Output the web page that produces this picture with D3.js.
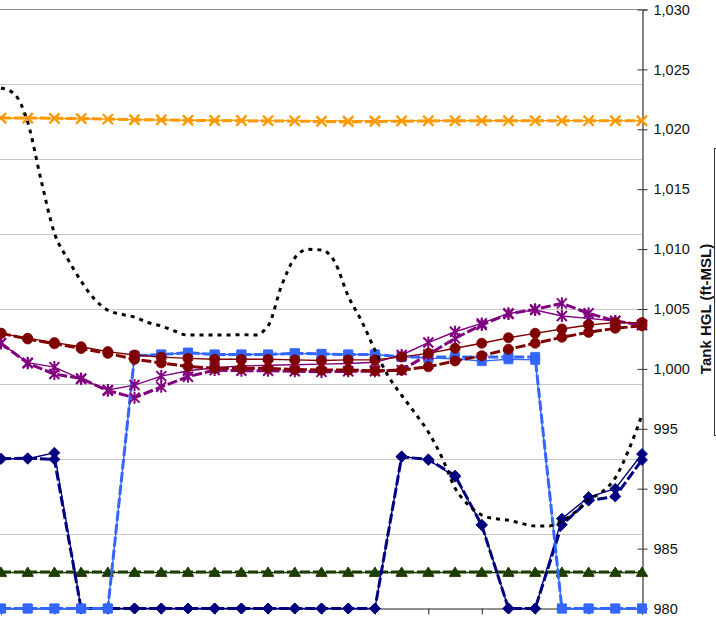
<!DOCTYPE html>
<html>
<head>
<meta charset="utf-8">
<script src="https://cdn.jsdelivr.net/npm/d3@7"></script>
<style>
  body { margin: 0; background: #fff; }
  svg { display: block; font-family: "Liberation Sans", Arial, sans-serif; }
</style>
</head>
<body>
<svg id="chart"></svg>
<script>
// Hours on the category axis
const hours = [0, 1, 2, 3, 4, 5, 6, 7, 8, 9, 10, 11, 12, 13, 14, 15, 16, 17, 18, 19, 20, 21, 22, 23, 24];
const halfHours = [0, 0.5, 1, 1.5, 2, 2.5, 3, 3.5, 4, 4.5, 5, 5.5, 6, 6.5, 7, 7.5, 8, 8.5, 9, 9.5, 10, 10.5,
  11, 11.5, 12, 12.5, 13, 13.5, 14, 14.5, 15, 15.5, 16, 16.5, 17, 17.5, 18, 18.5, 19, 19.5, 20, 20.5,
  21, 21.5, 22, 22.5, 23, 23.5, 24];

// Tank HGL (ft-MSL)
const orangeSolid = [1020.92, 1020.92, 1020.9, 1020.88, 1020.85, 1020.8, 1020.78, 1020.76, 1020.75, 1020.75, 1020.74, 1020.72, 1020.7,
  1020.7, 1020.72, 1020.72, 1020.72, 1020.72, 1020.72, 1020.72, 1020.72, 1020.72, 1020.72, 1020.72, 1020.72];
const orangeDashed = [1020.95, 1020.95, 1020.92, 1020.9, 1020.85, 1020.8, 1020.8, 1020.75, 1020.72, 1020.7, 1020.7, 1020.68, 1020.65,
  1020.62, 1020.65, 1020.68, 1020.7, 1020.72, 1020.72, 1020.72, 1020.72, 1020.72, 1020.72, 1020.72, 1020.72];
const redSolid = [1002.97, 1002.55, 1002.19, 1001.85, 1001.44, 1001.16, 1000.98, 1000.88, 1000.8, 1000.8, 1000.8, 1000.75, 1000.7,
  1000.75, 1000.75, 1001.0, 1001.3, 1001.72, 1002.14, 1002.6, 1002.97, 1003.33, 1003.67, 1003.86, 1003.86];
const redDashed = [1002.97, 1002.5, 1002.1, 1001.7, 1001.3, 1000.8, 1000.5, 1000.2, 1000.05, 1000.05, 1000.05, 999.95, 999.9,
  999.9, 999.85, 999.9, 1000.18, 1000.66, 1001.1, 1001.64, 1002.14, 1002.64, 1003.05, 1003.39, 1003.6];
const purpleSolid = [1002.14, 1000.52, 1000.15, 999.15, 998.24, 998.65, 999.4, 999.85, 1000.1, 1000.25, 1000.3, 1000.35, 1000.4,
  1000.45, 1000.55, 1001.16, 1002.2, 1003.1, 1003.8, 1004.64, 1004.92, 1004.42, 1004.22, 1004.0, 1003.67];
const purpleDashed = [1002.14, 1000.47, 999.57, 999.2, 998.18, 997.6, 998.5, 999.35, 999.9, 999.85, 999.85, 999.8, 999.75,
  999.8, 999.8, 999.9, 1001.2, 1002.55, 1003.67, 1004.58, 1004.97, 1005.47, 1004.64, 1004.0, 1003.67];
const blueSolid = [980, 980, 980, 980, 980, 1001.1, 1001.2, 1001.35, 1001.2, 1001.2, 1001.2, 1001.3, 1001.25,
  1001.2, 1001.2, 1001.0, 1000.9, 1000.85, 1000.65, 1000.8, 1000.75, 980, 980, 980, 980];
const blueDashed = [980, 980, 980, 980, 980, 1001.1, 1001.2, 1001.35, 1001.2, 1001.2, 1001.2, 1001.3, 1001.25,
  1001.2, 1001.2, 1001.0, 1001.0, 1001.0, 1001.0, 1001.0, 1001.0, 980, 980, 980, 980];
const navySolid = [992.5, 992.5, 993.0, 980, 980, 980, 980, 980, 980, 980, 980, 980, 980,
  980, 980, 992.7, 992.4, 991.0, 987.0, 980, 980, 987.5, 989.3, 990.0, 992.9];
const navyDashed = [992.5, 992.55, 992.45, 980, 980, 980, 980, 980, 980, 980, 980, 980, 980,
  980, 980, 992.65, 992.45, 991.1, 986.95, 980, 980, 987.0, 989.0, 989.35, 992.4];
const greenSolid = [983, 983, 983, 983, 983, 983, 983, 983, 983, 983, 983, 983, 983,
  983, 983, 983, 983, 983, 983, 983, 983, 983, 983, 983, 983];
const greenDashed = [983.05, 983.05, 983.05, 983.05, 983.05, 983.05, 983.05, 983.05, 983.05, 983.05, 983.05, 983.05, 983.05,
  983.05, 983.05, 983.05, 983.05, 983.05, 983.05, 983.05, 983.05, 983.05, 983.05, 983.05, 983.05];
const blackDotted = [1023.45, 1022.95, 1020.6, 1015.77, 1011.33, 1009.17, 1007.33, 1005.82, 1004.9, 1004.57, 1004.32, 1003.87,
  1003.58, 1003.16, 1002.82, 1002.82, 1002.82, 1002.82, 1002.86, 1002.82, 1003.58, 1006.92, 1009.26, 1009.98,
  1009.93, 1008.92, 1006.08, 1004.0, 1001.57, 999.4, 997.8, 996.32, 994.73, 992.65, 990.06, 988.64, 987.8,
  987.5, 987.37, 987.1, 986.89, 986.89, 987.3, 988.05, 989.06, 989.73, 990.9, 993.23, 996.15];

// Right axis ticks, left (primary, cropped) gridline ticks, bottom ticks
const hglTicks = [980, 985, 990, 995, 1000, 1005, 1010, 1015, 1020, 1025, 1030];
const gridTicks = [10, 20, 30, 40, 50, 60, 70];
const hourTicks = [0, 2, 4, 6, 8, 10, 12, 14, 16, 18, 20, 22, 24];

const W = 716, H = 618;
const svg = d3.select("#chart").attr("width", W).attr("height", H);

const x = d3.scaleLinear().domain([0, 24]).range([1, 642]);
const y = d3.scaleLinear().domain([980, 1030]).range([608.5, 9.5]);
const yLeft = d3.scaleLinear().domain([0, 80]).range([608.5, 9.5]);

// gridlines from the (cropped) primary axis
svg.append("g").selectAll("line")
    .data(gridTicks)
    .enter().append("line")
    .attr("x1", -10).attr("x2", 642)
    .attr("y1", d => Math.round(yLeft(d)) + 0.5).attr("y2", d => Math.round(yLeft(d)) + 0.5)
    .attr("stroke", "#c8c8c8").attr("stroke-width", 1);

// plot area top border
svg.append("line")
    .attr("x1", -10).attr("x2", 642).attr("y1", 9.5).attr("y2", 9.5)
    .attr("stroke", "#8c8c8c").attr("stroke-width", 1.2);

// bottom category axis
const xAxis = svg.append("g").attr("transform", "translate(0,608.5)")
    .call(d3.axisBottom(x).tickValues(hourTicks).tickSize(6).tickFormat(""));
xAxis.select(".domain").attr("stroke", "#222");
xAxis.selectAll(".tick line").attr("stroke", "#222");

// right axis
const yAxis = svg.append("g").attr("transform", "translate(642.5,0)")
    .call(d3.axisRight(y).tickValues(hglTicks).tickSize(5).tickPadding(6).tickFormat(d3.format(",")));
yAxis.select(".domain").attr("stroke", "#333").attr("stroke-width", 1.2);
yAxis.selectAll(".tick line").attr("x1", -5).attr("x2", 5).attr("stroke", "#333");
yAxis.selectAll(".tick text")
    .attr("fill", "#111").style("font-size", "14.5px")
    .style("font-family", "'Liberation Sans', Arial, sans-serif");

svg.append("text")
    .attr("transform", "translate(711,309) rotate(-90)")
    .attr("text-anchor", "middle")
    .style("font-size", "15px").style("font-weight", "bold").attr("fill", "#111")
    .text("Tank HGL (ft-MSL)");

// legend box (mostly cropped)
svg.append("rect")
    .attr("x", 714.5).attr("y", 148.5).attr("width", 40).attr("height", 287)
    .attr("fill", "#fff").attr("stroke", "#333").attr("stroke-width", 1);

// markers
function markerPath(type, s) {
  if (type === "circle") return d3.symbol(d3.symbolCircle, s * s * 3.2)();
  if (type === "square") return `M${-s},${-s}H${s}V${s}H${-s}Z`;
  if (type === "diamond") return `M0,${-s - 0.5}L${s + 0.5},0L0,${s + 0.5}L${-s - 0.5},0Z`;
  if (type === "triangle") return `M0,${-s}L${s + 0.5},${s * 0.8}L${-s - 0.5},${s * 0.8}Z`;
  if (type === "x") return `M${-s},${-s}L${s},${s}M${-s},${s}L${s},${-s}`;
  if (type === "star") return `M${-s},${-s}L${s},${s}M${-s},${s}L${s},${-s}M0,${-s - 1}L0,${s + 1}`;
}

const line = d3.line().x(d => x(d.h)).y(d => y(d.v));

function drawSeries(values, color, marker, dashed) {
  const pts = values.map((v, i) => ({ h: hours[i], v: v }));
  svg.append("path")
      .datum(pts)
      .attr("d", line)
      .attr("fill", "none")
      .attr("stroke", color)
      .attr("stroke-width", dashed ? 3 : 1.4)
      .attr("stroke-dasharray", dashed ? "10,3" : null);
  const open = marker === "x" || marker === "star";
  svg.append("g").selectAll("path")
      .data(pts)
      .enter().append("path")
      .attr("transform", d => `translate(${x(d.h)},${y(d.v)})`)
      .attr("d", markerPath(marker, marker === "square" ? 4.5 : 5))
      .attr("fill", open ? "none" : color)
      .attr("stroke", color)
      .attr("stroke-width", open ? 2 : 0.8);
}

drawSeries(greenSolid, "#1e3d00", "triangle", false);
drawSeries(greenDashed, "#1e3d00", "triangle", true);
drawSeries(navySolid, "#000080", "diamond", false);
drawSeries(navyDashed, "#000080", "diamond", true);
drawSeries(blueSolid, "#3366ff", "square", false);
drawSeries(blueDashed, "#3366ff", "square", true);
drawSeries(purpleSolid, "#800080", "star", false);
drawSeries(purpleDashed, "#800080", "star", true);
drawSeries(redSolid, "#800000", "circle", false);
drawSeries(redDashed, "#800000", "circle", true);
drawSeries(orangeSolid, "#ff9900", "x", false);
drawSeries(orangeDashed, "#ff9900", "x", true);

// black dotted line on top
svg.append("path")
    .datum(blackDotted.map((v, i) => ({ h: halfHours[i], v: v })))
    .attr("d", d3.line().x(d => x(d.h)).y(d => y(d.v)).curve(d3.curveMonotoneX))
    .attr("fill", "none")
    .attr("stroke", "#000")
    .attr("stroke-width", 3)
    .attr("stroke-dasharray", "4,5");
</script>
</body>
</html>
